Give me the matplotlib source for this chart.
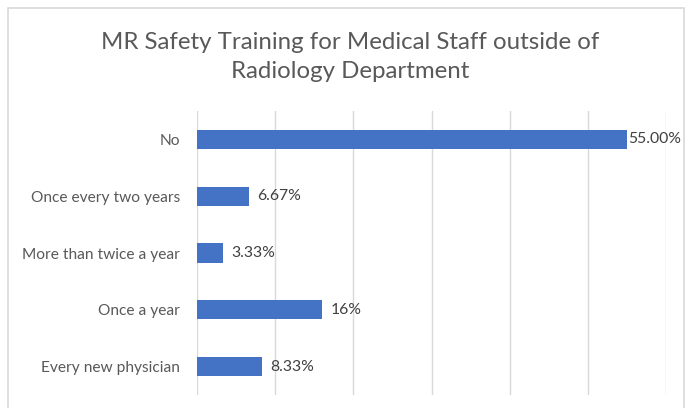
import matplotlib
matplotlib.use('Agg')
import matplotlib.pyplot as plt
import matplotlib.patches as mpatches

plt.rcParams['font.family'] = ['Lato', 'DejaVu Sans']

# Data
categories = ['No', 'Once every two years', 'More than twice a year',
              'Once a year', 'Every new physician']
values = [0.55, 0.0667, 0.0333, 0.16, 0.0833]
value_labels = ['55.00%', '6.67%', '3.33%', '16%', '8.33%']
x_ticks = [0.0, 0.1, 0.2, 0.3, 0.4, 0.5, 0.6]

bar_color = '#4472C4'
grid_color = '#D9D9D9'

fig = plt.figure(figsize=(6.91, 4.08), dpi=100)
ax = fig.add_axes([197 / 691, 13 / 408, 469 / 691, 284 / 408])

ypos = list(range(len(categories)))
ax.barh(ypos, values, height=0.34, color=bar_color, zorder=3)

ax.set_xlim(0, 0.6)
ax.set_ylim(len(categories) - 0.5, -0.5)
ax.set_xticks(x_ticks)
ax.set_xticklabels([])
ax.set_yticks(ypos)
ax.set_yticklabels(categories, fontsize=11.2, color='#595959')
ax.tick_params(axis='both', length=0)
ax.tick_params(axis='y', pad=12)
ax.grid(axis='x', color=grid_color, linewidth=1, zorder=0)
for s in ax.spines.values():
    s.set_visible(False)

# data labels just right of the bar ends
for y, v, lab in zip(ypos, values, value_labels):
    pad = 1.2 if v == max(values) else 6
    ax.annotate(lab, xy=(v, y), xytext=(pad, 0), textcoords='offset points',
                ha='left', va='center', fontsize=11.3, color='#404040')

# title
fig.text(350 / 691, 1 - 57 / 408, 'MR Safety Training for Medical Staff outside of\nRadiology Department',
         ha='center', va='center', fontsize=17.3, color='#595959', linespacing=1.45)

# chart frame
frame = mpatches.Rectangle((8 / 691, -0.02), 676 / 691, 1 - 8 / 408 + 0.02,
                           transform=fig.transFigure, fill=False,
                           edgecolor=grid_color, linewidth=1.2)
fig.patches.append(frame)

fig.savefig('out.png', dpi=100)
plt.close()
